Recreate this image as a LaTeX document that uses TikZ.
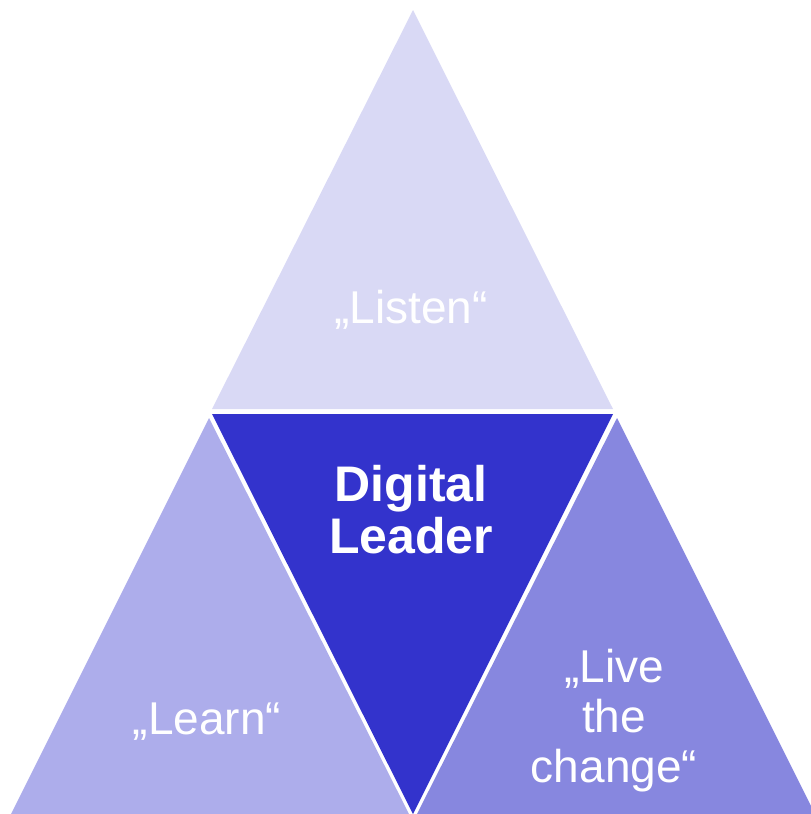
\documentclass[tikz,border=0pt]{standalone}
\usepackage{fontspec}
\setmainfont{Liberation Sans}
\definecolor{topc}{RGB}{217,217,245}
\definecolor{leftc}{RGB}{173,173,235}
\definecolor{rightc}{RGB}{135,135,223}
\definecolor{midc}{RGB}{51,51,204}
\begin{document}
\begin{tikzpicture}[x=1pt,y=-1pt,
  lbl/.style={text=white,font=\fontsize{46}{50}\selectfont,anchor=base,inner sep=0pt},
  blbl/.style={text=white,font=\fontsize{50}{54}\selectfont\bfseries,anchor=base,inner sep=0pt}]
\useasboundingbox (0,0) rectangle (811,814);
\fill[topc] (413,10) -- (613,409) -- (212,409) -- cycle;
\fill[midc] (212,414) -- (613,414) -- (413,814) -- cycle;
\fill[leftc] (209,418) -- (409,814) -- (11,814) -- cycle;
\fill[rightc] (617,418) -- (815,814) -- (417,814) -- cycle;
\node[lbl] (listen) at (411,323) {„Listen“};
\node[blbl] (digital) at (411,501) {Digital};
\node[blbl] (leader) at (411,553) {Leader};
\node[lbl] (learn) at (207,734) {„Learn“};
\node[lbl] (live) at (614,682) {„Live};
\node[lbl] (the) at (614,732) {the};
\node[lbl] (change) at (614,782) {change“};
\end{tikzpicture}
\end{document}
